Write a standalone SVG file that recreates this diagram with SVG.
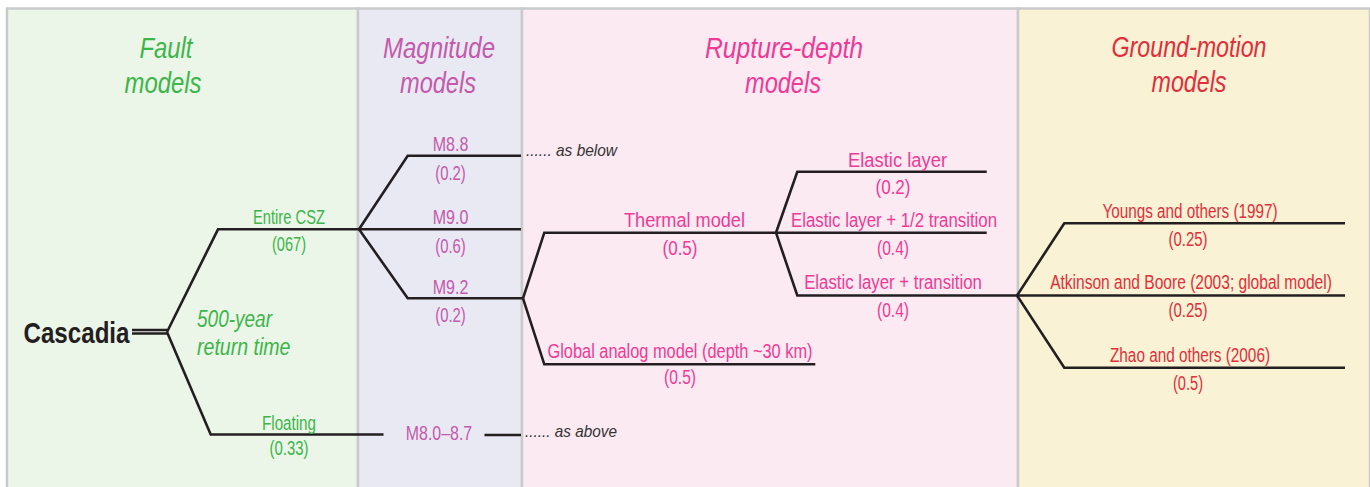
<svg xmlns="http://www.w3.org/2000/svg" width="1370" height="487" viewBox="0 0 1370 487">
<style>
.pnl{stroke:#C9CACC;stroke-width:2.5}
.t{font-family:"Liberation Sans Narrow","Liberation Sans",Arial,sans-serif;text-anchor:middle}
.ti{font-style:italic;font-size:30px}
.lb{font-size:20px}
.g{fill:#3DB54A}.m{fill:#C35AAB}.r{fill:#EE3A96}.gm{fill:#DF2F3C}
.note{font-family:"Liberation Sans Narrow","Liberation Sans",Arial,sans-serif;font-style:italic;font-size:17px;fill:#333}
.ln{fill:none;stroke:#231F20;stroke-width:2.6;stroke-linejoin:miter}
</style>
<rect width="1370" height="487" fill="#fff"/>
<g id="panels">
<rect class="pnl" x="7" y="8.5" width="351" height="490" fill="#EBF5E8"/>
<rect class="pnl" x="358" y="8.5" width="164" height="490" fill="#E9E9F3"/>
<rect class="pnl" x="522" y="8.5" width="496" height="490" fill="#FBEAF2"/>
<rect class="pnl" x="1018" y="8.5" width="352" height="490" fill="#F9F2D4"/>
</g>
<g id="titles">
<text class="t ti g" x="166" y="58" textLength="53" lengthAdjust="spacingAndGlyphs">Fault</text>
<text class="t ti g" x="163" y="93" textLength="77" lengthAdjust="spacingAndGlyphs">models</text>
<text class="t ti m" x="439" y="58" textLength="112" lengthAdjust="spacingAndGlyphs">Magnitude</text>
<text class="t ti m" x="438" y="93" textLength="76" lengthAdjust="spacingAndGlyphs">models</text>
<text class="t ti r" x="784" y="58" textLength="158" lengthAdjust="spacingAndGlyphs">Rupture-depth</text>
<text class="t ti r" x="783" y="93" textLength="76" lengthAdjust="spacingAndGlyphs">models</text>
<text class="t ti gm" x="1189" y="57" textLength="155" lengthAdjust="spacingAndGlyphs">Ground-motion</text>
<text class="t ti gm" x="1189" y="92" textLength="75" lengthAdjust="spacingAndGlyphs">models</text>
</g>
<g id="connectors">
<line class="ln" x1="132" y1="330" x2="167" y2="330" stroke-width="2"/>
<line class="ln" x1="132" y1="333.5" x2="167" y2="333.5" stroke-width="2"/>
<polyline class="ln" points="167,332 218,229.3 359,229.3"/>
<polyline class="ln" points="167,332 210.7,434.5 383.5,434.5"/>
<polyline class="ln" points="359,229.3 407.7,155.7 521,155.7"/>
<polyline class="ln" points="359,229.3 521,229.3"/>
<polyline class="ln" points="359,229.3 407.7,298.3 523,298.3"/>
<line class="ln" x1="484.5" y1="435" x2="521" y2="435"/>
<polyline class="ln" points="523,298.3 544.3,232.7 776,232.7"/>
<polyline class="ln" points="523,298.3 544.3,364.3 815.3,364.3"/>
<polyline class="ln" points="776,232.7 797.3,171.7 986.7,171.7"/>
<polyline class="ln" points="776,232.7 986.7,232.7"/>
<polyline class="ln" points="776,232.7 797.3,295.5 1017,295.5"/>
<polyline class="ln" points="1017,295.5 1064.3,223.3 1345,223.3"/>
<polyline class="ln" points="1017,295.5 1345,295.5"/>
<polyline class="ln" points="1017,295.5 1064.3,367.7 1345,367.7"/>
</g>
<g id="node-cascadia">
<text x="23.5" y="343" font-family="Liberation Sans Narrow,Liberation Sans,Arial,sans-serif" font-weight="bold" font-size="30" fill="#231F20" textLength="106" lengthAdjust="spacingAndGlyphs">Cascadia</text>
<text x="197" y="326.7" font-family="Liberation Sans Narrow,Liberation Sans,Arial,sans-serif" font-style="italic" font-size="23" fill="#3DB54A" textLength="75" lengthAdjust="spacingAndGlyphs">500-year</text>
<text x="197" y="355" font-family="Liberation Sans Narrow,Liberation Sans,Arial,sans-serif" font-style="italic" font-size="23" fill="#3DB54A" textLength="93.5" lengthAdjust="spacingAndGlyphs">return time</text>
</g>
<g id="node-entire-csz">
<text class="t lb g" x="289" y="224" textLength="72" lengthAdjust="spacingAndGlyphs">Entire CSZ</text>
<text class="t lb g" x="289" y="251" textLength="34" lengthAdjust="spacingAndGlyphs">(067)</text>
</g>
<g id="node-floating">
<text class="t lb g" x="289" y="429.5" textLength="54" lengthAdjust="spacingAndGlyphs">Floating</text>
<text class="t lb g" x="289" y="455" textLength="39" lengthAdjust="spacingAndGlyphs">(0.33)</text>
</g>
<g id="node-m88">
<text class="t lb m" x="450.5" y="150.7" textLength="35.6" lengthAdjust="spacingAndGlyphs">M8.8</text>
<text class="t lb m" x="450.5" y="179.5" textLength="30.5" lengthAdjust="spacingAndGlyphs">(0.2)</text>
<text class="note" x="526" y="156" textLength="91" lengthAdjust="spacingAndGlyphs">...... as below</text>
</g>
<g id="node-m90">
<text class="t lb m" x="450.5" y="224" textLength="35.6" lengthAdjust="spacingAndGlyphs">M9.0</text>
<text class="t lb m" x="450.5" y="252.5" textLength="30.5" lengthAdjust="spacingAndGlyphs">(0.6)</text>
</g>
<g id="node-m92">
<text class="t lb m" x="450.5" y="294" textLength="35.6" lengthAdjust="spacingAndGlyphs">M9.2</text>
<text class="t lb m" x="450.5" y="322" textLength="30.5" lengthAdjust="spacingAndGlyphs">(0.2)</text>
</g>
<g id="node-m80-87">
<text class="t lb m" x="439" y="440" textLength="66.3" lengthAdjust="spacingAndGlyphs">M8.0–8.7</text>
<text class="note" x="525" y="437" textLength="92" lengthAdjust="spacingAndGlyphs">...... as above</text>
</g>
<g id="node-thermal">
<text class="t lb r" x="684.5" y="226.7" textLength="121" lengthAdjust="spacingAndGlyphs">Thermal model</text>
<text class="t lb r" x="680" y="255" textLength="35" lengthAdjust="spacingAndGlyphs">(0.5)</text>
</g>
<g id="node-global-analog">
<text class="t lb r" x="680" y="357.5" textLength="265" lengthAdjust="spacingAndGlyphs">Global analog model (depth ~30 km)</text>
<text class="t lb r" x="680" y="384" textLength="32" lengthAdjust="spacingAndGlyphs">(0.5)</text>
</g>
<g id="node-elastic">
<text class="t lb r" x="897.5" y="167.3" textLength="99" lengthAdjust="spacingAndGlyphs">Elastic layer</text>
<text class="t lb r" x="893" y="194" textLength="35" lengthAdjust="spacingAndGlyphs">(0.2)</text>
</g>
<g id="node-elastic-half">
<text class="t lb r" x="894" y="227.3" textLength="206" lengthAdjust="spacingAndGlyphs">Elastic layer + 1/2 transition</text>
<text class="t lb r" x="893" y="255" textLength="32" lengthAdjust="spacingAndGlyphs">(0.4)</text>
</g>
<g id="node-elastic-full">
<text class="t lb r" x="893" y="289" textLength="177.7" lengthAdjust="spacingAndGlyphs">Elastic layer + transition</text>
<text class="t lb r" x="893" y="317" textLength="32" lengthAdjust="spacingAndGlyphs">(0.4)</text>
</g>
<g id="node-youngs">
<text class="t lb gm" x="1190" y="217.7" textLength="175" lengthAdjust="spacingAndGlyphs">Youngs and others (1997)</text>
<text class="t lb gm" x="1188" y="245.7" textLength="39" lengthAdjust="spacingAndGlyphs">(0.25)</text>
</g>
<g id="node-atkinson">
<text class="t lb gm" x="1191" y="289.3" textLength="281.7" lengthAdjust="spacingAndGlyphs">Atkinson and Boore (2003; global model)</text>
<text class="t lb gm" x="1188" y="317" textLength="39" lengthAdjust="spacingAndGlyphs">(0.25)</text>
</g>
<g id="node-zhao">
<text class="t lb gm" x="1190" y="361.7" textLength="160" lengthAdjust="spacingAndGlyphs">Zhao and others (2006)</text>
<text class="t lb gm" x="1188" y="390" textLength="30" lengthAdjust="spacingAndGlyphs">(0.5)</text>
</g>
</svg>
